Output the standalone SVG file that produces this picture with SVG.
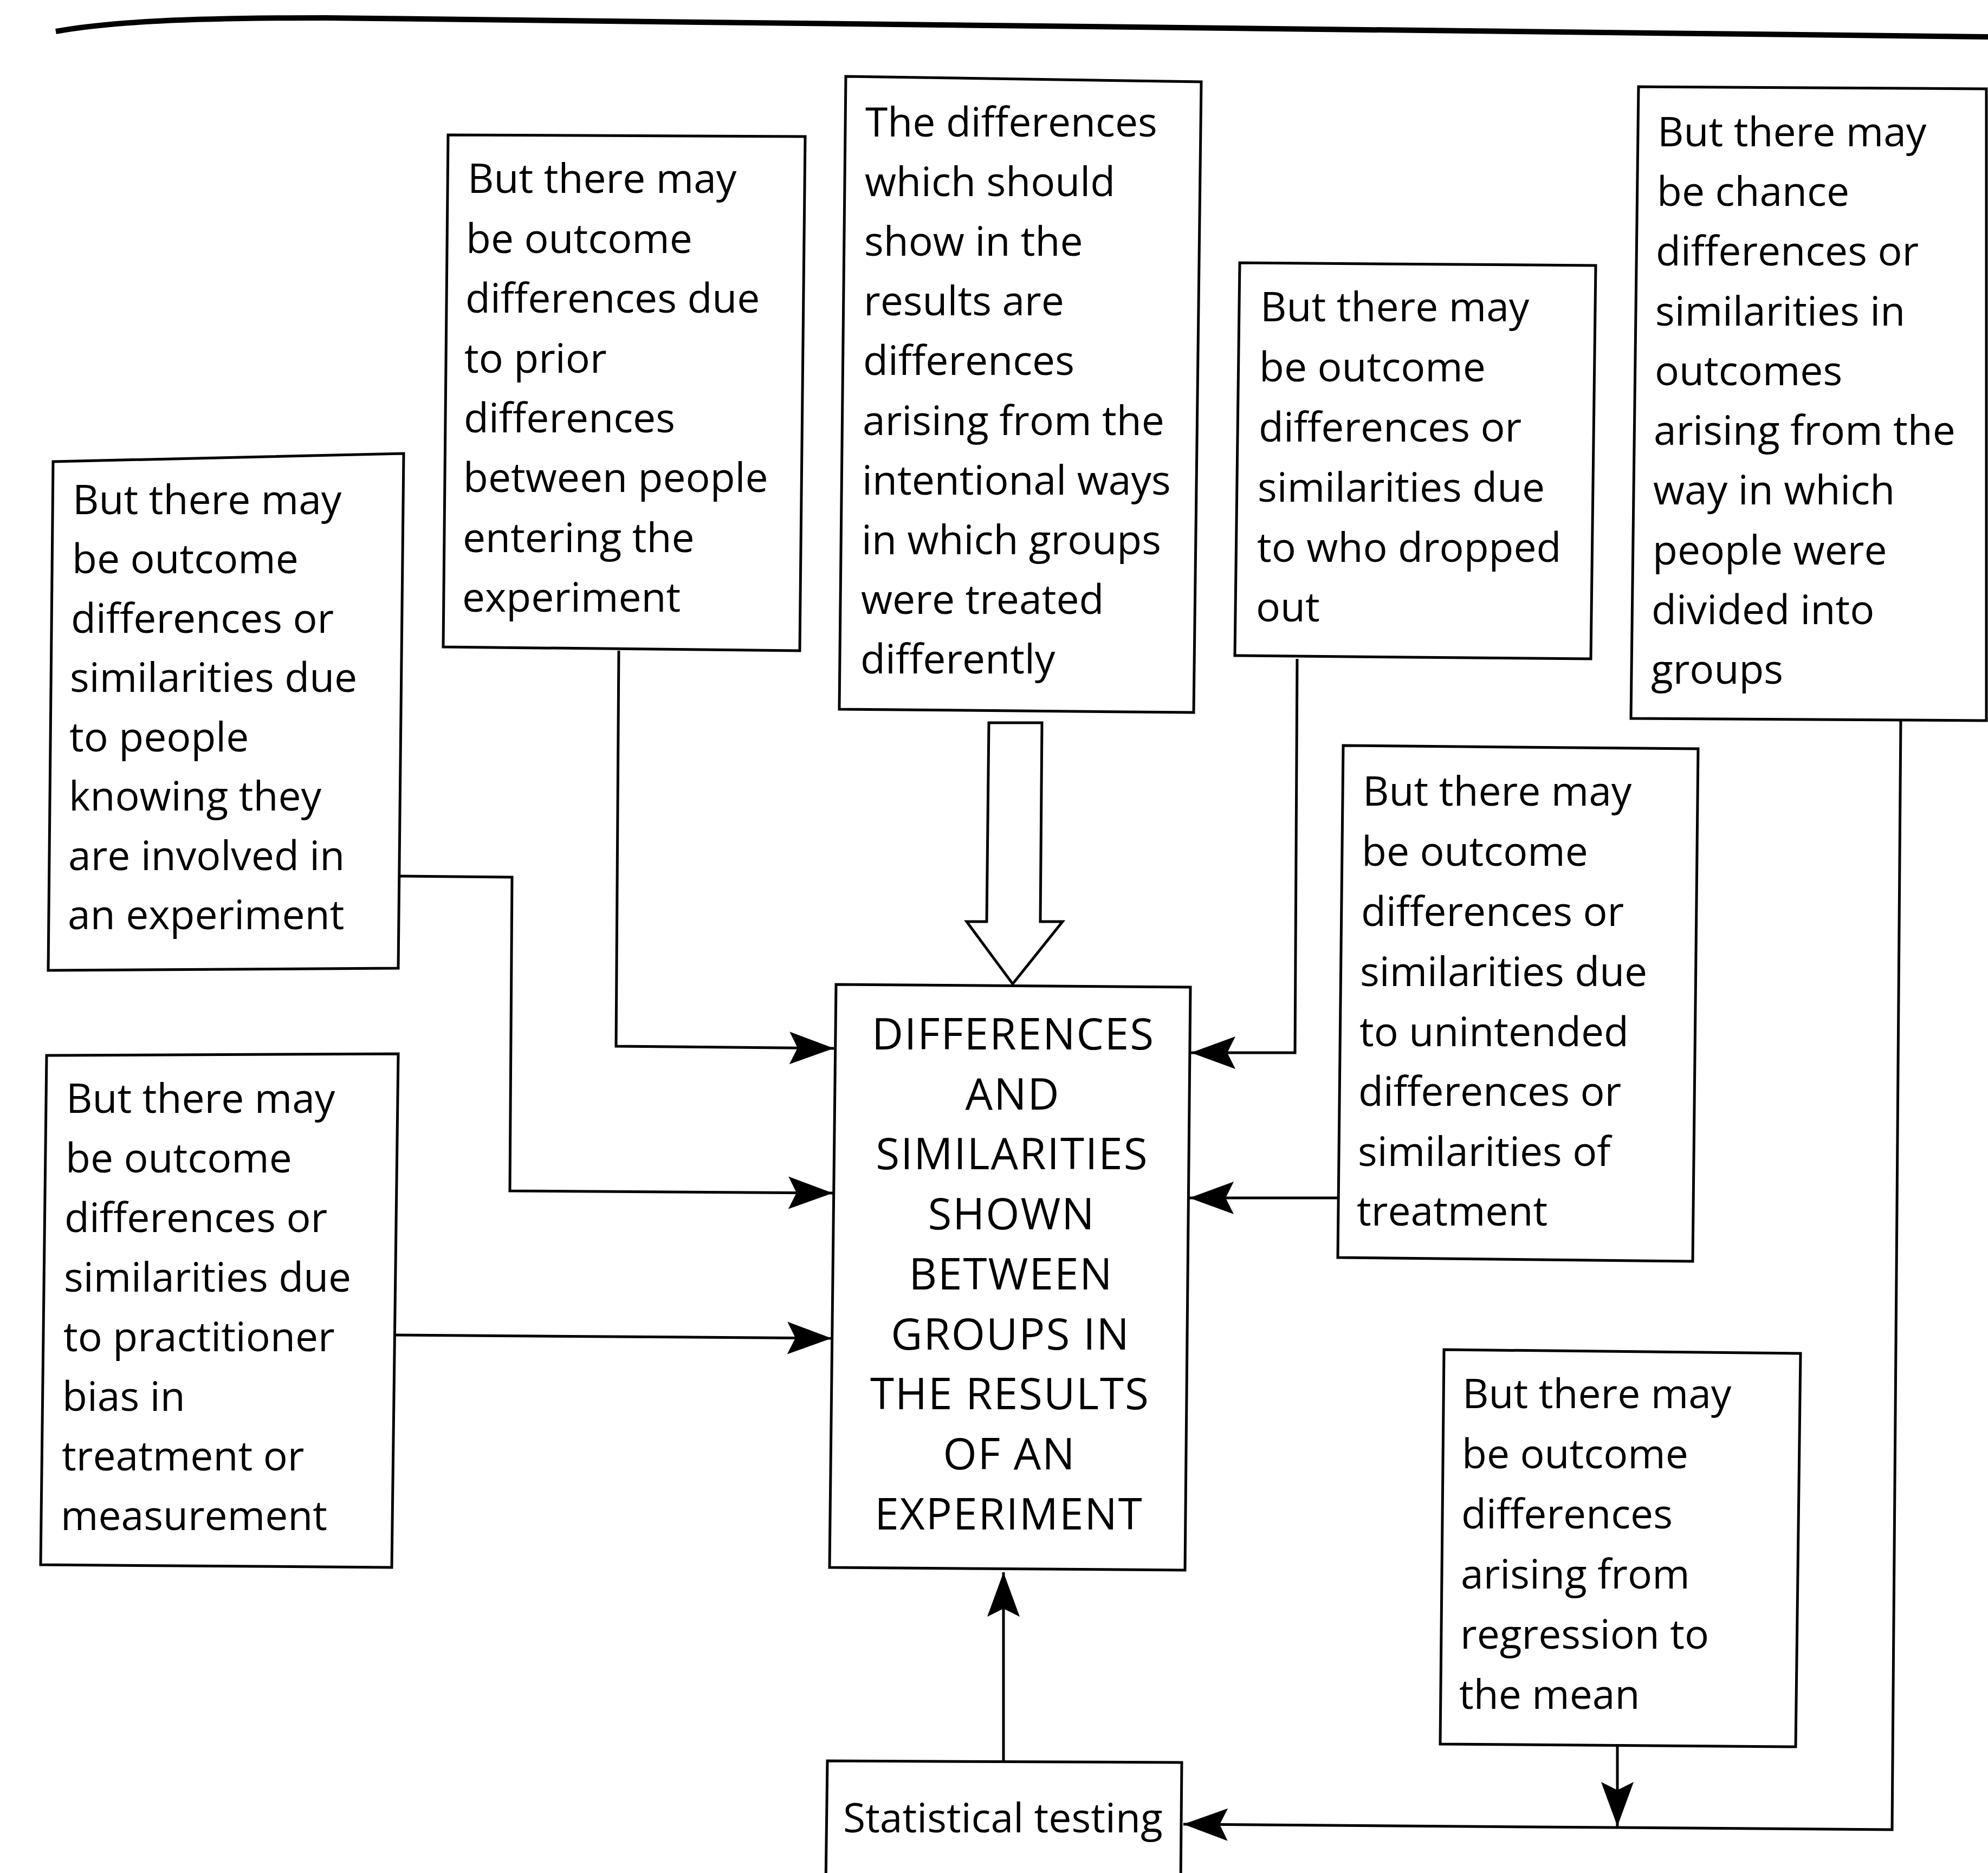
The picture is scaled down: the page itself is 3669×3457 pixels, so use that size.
<svg xmlns="http://www.w3.org/2000/svg" width="3669" height="3457" viewBox="0 0 3669 3457">
<style>
.box{fill:#fff;stroke:#000;stroke-width:5;stroke-linejoin:miter}
.t{font-family:"Open Sans","Noto Sans","DejaVu Sans",sans-serif;font-size:75px;fill:#000}
.c{font-family:"Open Sans","Noto Sans","DejaVu Sans",sans-serif;font-size:80px;letter-spacing:2px;fill:#000;text-anchor:middle}
.ln{fill:none;stroke:#000;stroke-width:5}
.arr{marker-end:url(#ah)}
</style>
<defs>
<marker id="ah" markerUnits="userSpaceOnUse" viewBox="-90 -35 95 70" markerWidth="95" markerHeight="70" refX="0" refY="0" orient="auto">
<path d="M0,0 L-82,-30 L-67,0 L-82,30 Z" fill="#000"/>
</marker>
</defs>
<rect width="3669" height="3457" fill="#fff"/>
<path d="M103,58 C200,40 350,33 600,33 L3669,68" fill="none" stroke="#000" stroke-width="10"/>

<g id="connectors">
<path class="ln arr" d="M1142,1201 L1137,1931 L1539,1935"/>
<path class="ln arr" d="M737,1617 L945,1619 L941,2198 L1537,2202"/>
<path class="ln arr" d="M729,2464 L1535,2470"/>
<path class="ln arr" d="M2394,1216 L2390,1943 L2198,1943"/>
<path class="ln arr" d="M2468,2211 L2195,2211"/>
<path class="ln arr" d="M1852,3250 L1852,2902"/>
<path class="ln arr" d="M3508,1330 L3492,3377 L2184,3367"/>
<path class="ln arr" d="M2985,3224 L2985,3371"/>
<path id="hollow-arrow" d="M1825,1334 L1923,1334 L1920,1701 L1961,1701 L1869,1816 L1784,1701 L1821,1701 Z" fill="#fff" stroke="#000" stroke-width="5" stroke-linejoin="miter"/>
</g>

<g id="node-people-knowing">
<path class="box" d="M98,852 L745,837 L735,1787 L89,1791 Z"/>
<text class="t"><tspan x="134" y="949">But there may</tspan><tspan x="133" y="1058">be outcome</tspan><tspan x="131" y="1168">differences or</tspan><tspan x="129" y="1277">similarities due</tspan><tspan x="128" y="1387">to people</tspan><tspan x="127" y="1496">knowing they</tspan><tspan x="126" y="1606">are involved in</tspan><tspan x="125" y="1715">an experiment</tspan></text>
</g>

<g id="node-prior-differences">
<path class="box" d="M827,249 L1486,252 L1476,1201 L818,1194 Z"/>
<text class="t"><tspan x="863" y="356">But there may</tspan><tspan x="860" y="467">be outcome</tspan><tspan x="859" y="577">differences due</tspan><tspan x="857" y="688">to prior</tspan><tspan x="856" y="798">differences</tspan><tspan x="855" y="908">between people</tspan><tspan x="854" y="1019">entering the</tspan><tspan x="853" y="1129">experiment</tspan></text>
</g>

<g id="node-intended-differences">
<path class="box" d="M1561,141 L2217,151 L2203,1315 L1549,1309 Z"/>
<text class="t"><tspan x="1597" y="252">The differences</tspan><tspan x="1596" y="362">which should</tspan><tspan x="1595" y="472">show in the</tspan><tspan x="1594" y="582">results are</tspan><tspan x="1593" y="692">differences</tspan><tspan x="1592" y="803">arising from the</tspan><tspan x="1591" y="913">intentional ways</tspan><tspan x="1590" y="1023">in which groups</tspan><tspan x="1589" y="1133">were treated</tspan><tspan x="1588" y="1243">differently</tspan></text>
</g>

<g id="node-dropped-out">
<path class="box" d="M2288,485 L2945,490 L2936,1216 L2279,1210 Z"/>
<text class="t"><tspan x="2326" y="593">But there may</tspan><tspan x="2324" y="704">be outcome</tspan><tspan x="2323" y="815">differences or</tspan><tspan x="2321" y="926">similarities due</tspan><tspan x="2320" y="1037">to who dropped</tspan><tspan x="2318" y="1147">out</tspan></text>
</g>

<g id="node-chance">
<path class="box" d="M3024,160 L3666,164 L3666,1330 L3010,1326 Z"/>
<text class="t"><tspan x="3059" y="270">But there may</tspan><tspan x="3058" y="380">be chance</tspan><tspan x="3056" y="490">differences or</tspan><tspan x="3055" y="601">similarities in</tspan><tspan x="3054" y="711">outcomes</tspan><tspan x="3052" y="821">arising from the</tspan><tspan x="3051" y="931">way in which</tspan><tspan x="3050" y="1042">people were</tspan><tspan x="3048" y="1152">divided into</tspan><tspan x="3047" y="1262">groups</tspan></text>
</g>

<g id="node-central">
<path class="box" d="M1543,1817 L2197,1822 L2187,2898 L1531,2893 Z"/>
<text class="c"><tspan x="1870" y="1937">DIFFERENCES</tspan><tspan x="1869" y="2048">AND</tspan><tspan x="1868" y="2158">SIMILARITIES</tspan><tspan x="1867" y="2269">SHOWN</tspan><tspan x="1866" y="2380">BETWEEN</tspan><tspan x="1865" y="2491">GROUPS IN</tspan><tspan x="1864" y="2601">THE RESULTS</tspan><tspan x="1863" y="2712">OF AN</tspan><tspan x="1862" y="2823">EXPERIMENT</tspan></text>
</g>

<g id="node-unintended-treatment">
<path class="box" d="M2479,1376 L3134,1382 L3124,2328 L2469,2321 Z"/>
<text class="t"><tspan x="2515" y="1487">But there may</tspan><tspan x="2513" y="1598">be outcome</tspan><tspan x="2512" y="1709">differences or</tspan><tspan x="2510" y="1820">similarities due</tspan><tspan x="2509" y="1931">to unintended</tspan><tspan x="2507" y="2041">differences or</tspan><tspan x="2506" y="2152">similarities of</tspan><tspan x="2504" y="2262">treatment</tspan></text>
</g>

<g id="node-practitioner-bias">
<path class="box" d="M86,1948 L735,1945 L723,2893 L75,2888 Z"/>
<text class="t"><tspan x="122" y="2054">But there may</tspan><tspan x="121" y="2164">be outcome</tspan><tspan x="119" y="2274">differences or</tspan><tspan x="118" y="2384">similarities due</tspan><tspan x="117" y="2494">to practitioner</tspan><tspan x="115" y="2604">bias in</tspan><tspan x="114" y="2714">treatment or</tspan><tspan x="112" y="2824">measurement</tspan></text>
</g>

<g id="node-regression">
<path class="box" d="M2665,2491 L3323,2498 L3314,3224 L2658,3219 Z"/>
<text class="t"><tspan x="2699" y="2599">But there may</tspan><tspan x="2698" y="2710">be outcome</tspan><tspan x="2697" y="2821">differences</tspan><tspan x="2696" y="2932">arising from</tspan><tspan x="2695" y="3043">regression to</tspan><tspan x="2693" y="3154">the mean</tspan></text>
</g>

<g id="node-statistical-testing">
<path class="box" d="M1527,3250 L2181,3253 L2179,3480 L1524,3480 Z"/>
<text class="t"><tspan x="1556" y="3382">Statistical testing</tspan></text>
</g>
</svg>
